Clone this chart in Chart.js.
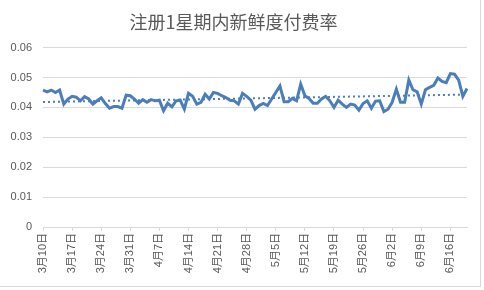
<!DOCTYPE html>
<html>
<head>
<meta charset="utf-8">
<script src="https://cdn.jsdelivr.net/npm/chart.js@4"></script>
<style>
  body { margin: 0; background: #fff; }
  #wrap { position: relative; width: 484px; height: 290px; }
  #frame { position: absolute; left: 0; top: 0; width: 480px; height: 286px;
           border-right: 1px solid #d9d9d9; border-bottom: 1px solid #d9d9d9; pointer-events: none; }
</style>
</head>
<body>
<div id="wrap">
  <canvas id="chart" width="484" height="290"></canvas>
  <div id="frame"></div>
</div>
<script>
// Daily paying rate within first week of registration, from 3月10日
const startMonth = 3;
const startDay = 10;
const rates = [
  0.0458, 0.0452, 0.0458, 0.0450, 0.0458, 0.0411, 0.0428, 0.0437, 0.0434, 0.0422,
  0.0436, 0.0428, 0.0411, 0.0422, 0.0432, 0.0413, 0.0397, 0.0403, 0.0403, 0.0397,
  0.0441, 0.0439, 0.0428, 0.0414, 0.0426, 0.0417, 0.0426, 0.0422, 0.0424, 0.0389,
  0.0414, 0.0402, 0.0422, 0.0424, 0.0394, 0.0447, 0.0437, 0.0411, 0.0417, 0.0444,
  0.0428, 0.0450, 0.0447, 0.0439, 0.0433, 0.0424, 0.0422, 0.0411,
  0.0447, 0.0437, 0.0424, 0.0394, 0.0406, 0.0413, 0.0406, 0.0428, 0.0450, 0.0472,
  0.0419, 0.0419, 0.0430, 0.0422, 0.0478, 0.0439, 0.0430, 0.0414, 0.0414, 0.0428,
  0.0437, 0.0422, 0.0400, 0.0424, 0.0411, 0.0400, 0.0411, 0.0408, 0.0391, 0.0413,
  0.0422, 0.0397, 0.0421, 0.0422, 0.0386, 0.0394, 0.0417, 0.0461, 0.0417, 0.0417,
  0.0492, 0.0459, 0.0452, 0.0411, 0.0459, 0.0467, 0.0474, 0.0498, 0.0487, 0.0483,
  0.0513, 0.0511, 0.0491, 0.0437, 0.0463
];
// linear trendline end values
const trendStart = 0.0418;
const trendEnd = 0.0443;
const yTicks = [0, 0.01, 0.02, 0.03, 0.04, 0.05, 0.06];
const labelEvery = 7;

// one category per day
const dates = [];
const d = new Date(2015, startMonth - 1, startDay);
for (let i = 0; i < rates.length; i++) {
    dates.push((d.getMonth() + 1) + '月' + d.getDate() + '日');
    d.setDate(d.getDate() + 1);
}

const blue = '#4a7ebb';
const textColor = '#595959';
const gridColor = '#d9d9d9';
const fontFamily = "'Liberation Sans', 'Noto Sans CJK SC', sans-serif";

new Chart(document.getElementById('chart').getContext('2d'), {
    type: 'line',
    data: {
        labels: dates,
        datasets: [{
            data: rates,
            borderColor: blue,
            borderWidth: 3,
            pointRadius: 0,
            tension: 0,
            fill: false
        }, {
            data: [
                { x: dates[0], y: trendStart },
                { x: dates[dates.length - 1], y: trendEnd }
            ],
            borderColor: blue,
            borderWidth: 2,
            borderDash: [2, 3],
            pointRadius: 0,
            fill: false
        }]
    },
    options: {
        responsive: false,
        animation: false,
        layout: { padding: { left: 0, right: 17, top: 0, bottom: 0 } },
        plugins: {
            legend: { display: false },
            tooltip: { enabled: false },
            title: {
                display: true,
                text: '注册1星期内新鲜度付费率',
                color: textColor,
                font: { family: "'Noto Sans CJK SC', sans-serif", size: 18, weight: 'normal' },
                padding: { top: 11, bottom: 15 }
            }
        },
        scales: {
            x: {
                offset: false,
                border: { color: gridColor },
                grid: {
                    drawOnChartArea: false,
                    color: gridColor,
                    tickLength: 4
                },
                ticks: {
                    autoSkip: false,
                    maxRotation: 90,
                    minRotation: 90,
                    padding: 2,
                    color: textColor,
                    font: { family: fontFamily, size: 11 },
                    callback: function(value, index) {
                        return index % labelEvery === 0 ? dates[index] : null;
                    }
                },
                afterFit: function(scale) { scale.height = 63; }
            },
            y: {
                min: 0,
                max: 0.06,
                border: { display: false },
                grid: { color: gridColor, drawTicks: false },
                afterBuildTicks: function(scale) {
                    scale.ticks = yTicks.map(v => ({ value: v }));
                },
                ticks: {
                    padding: 11,
                    color: textColor,
                    font: { family: fontFamily, size: 11 },
                    callback: function(value) { return String(value); }
                },
                afterFit: function(scale) { scale.width = 43; }
            }
        }
    }
});
</script>
</body>
</html>
